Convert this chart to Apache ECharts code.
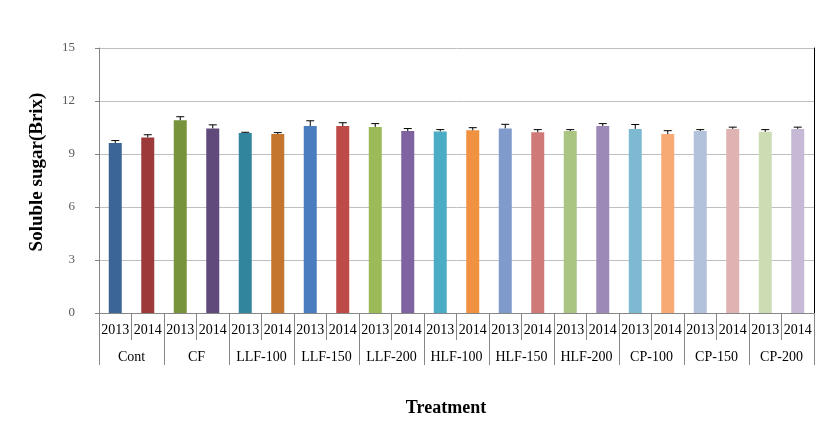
<!DOCTYPE html>
<html>
<head>
<meta charset="utf-8">
<script src="https://cdn.jsdelivr.net/npm/echarts@6/dist/echarts.min.js"></script>
<style>html,body{margin:0;padding:0;background:#fff}#c{width:830px;height:438px}</style>
</head>
<body>
<div id="c"></div>
<script>
var treatments = ['Cont','CF','LLF-100','LLF-150','LLF-200','HLF-100','HLF-150','HLF-200','CP-100','CP-150','CP-200'];
var years = ['2013','2014'];
var values = [9.62, 9.94, 10.91, 10.45, 10.19, 10.13, 10.58, 10.58, 10.53, 10.30, 10.28, 10.34, 10.45, 10.23, 10.30, 10.58, 10.42, 10.13, 10.30, 10.42, 10.26, 10.42];
var errors = [0.14, 0.15, 0.20, 0.20, 0.04, 0.08, 0.30, 0.19, 0.19, 0.14, 0.10, 0.15, 0.23, 0.15, 0.08, 0.14, 0.25, 0.19, 0.08, 0.10, 0.12, 0.10];
var yTicks = {min: 0, max: 15, step: 3};

var colors = ['#3B6594','#9C3A3A','#77933C','#604A7B','#31859C','#C4762E','#4A7DC0','#BE4B48','#9BBB59','#7F62A0','#4BACC6','#F0923F','#7F9ACB','#CF7A78','#AAC582','#9C89B8','#7DBAD1','#F7AA74','#B3C2DB','#E0B3B3','#CDDDB3','#C5B9D6'];

var cats = [];
treatments.forEach(function(t){ years.forEach(function(y){ cats.push(y); }); });
var barData = values.map(function(v,i){ return {value: v, itemStyle: {color: colors[i]}}; });
var errData = values.map(function(v,i){ return [i, v, v + errors[i]]; });

var font = '"Liberation Serif","Times New Roman",serif';
var chart = echarts.init(document.getElementById('c'));
chart.setOption({
  animation: false,
  grid: {left: 99, right: 16, top: 48, bottom: 125, containLabel: false},
  xAxis: [{
    type: 'category', data: cats, position: 'bottom',
    axisLine: {show: true, lineStyle: {color: '#868686'}},
    axisTick: {show: true, interval: 0, length: 27, lineStyle: {color: '#868686'}},
    axisLabel: {interval: 0, margin: 10, fontFamily: font, fontSize: 14, color: '#000'},
    splitLine: {show: false}
  }, {
    type: 'category', data: treatments, position: 'bottom', offset: 0,
    axisLine: {show: false},
    axisTick: {show: true, interval: 0, length: 52, lineStyle: {color: '#868686'}},
    axisLabel: {interval: 0, margin: 37, fontFamily: font, fontSize: 14, color: '#000'},
    splitLine: {show: false}
  }],
  yAxis: [{
    type: 'value', min: yTicks.min, max: yTicks.max, interval: yTicks.step,
    axisLine: {show: true, lineStyle: {color: '#868686'}},
    axisTick: {show: true, length: 4, lineStyle: {color: '#868686'}},
    axisLabel: {margin: 24, fontFamily: font, fontSize: 13, color: '#595959'},
    splitLine: {show: true, lineStyle: {color: '#BFBFBF'}}
  }, {
    type: 'value', min: yTicks.min, max: yTicks.max, interval: yTicks.step, position: 'right',
    axisLine: {show: true, lineStyle: {color: '#000'}},
    axisTick: {show: false}, axisLabel: {show: false}, splitLine: {show: false}
  }],
  graphic: [{
    type: 'text', left: 'center', top: 0,
    style: {text: ''}
  }, {
    type: 'text', x: 446, y: 408,
    style: {text: 'Treatment', font: 'bold 18px ' + font, fill: '#000', align: 'center', verticalAlign: 'middle'}
  }, {
    type: 'text', x: 37, y: 172, rotation: Math.PI / 2,
    style: {text: 'Soluble sugar(Brix)', font: 'bold 19px ' + font, fill: '#000', align: 'center', verticalAlign: 'middle'}
  }],
  series: [{
    type: 'bar', xAxisIndex: 0, yAxisIndex: 0, data: barData, barWidth: 13
  }, {
    type: 'custom', xAxisIndex: 0, yAxisIndex: 0, data: errData, z: 5,
    renderItem: function(params, api){
      var x = api.value(0);
      var lo = api.coord([x, api.value(1)]);
      var hi = api.coord([x, api.value(2)]);
      var hw = 4;
      return {type: 'group', children: [
        {type: 'line', shape: {x1: lo[0], y1: lo[1], x2: hi[0], y2: hi[1]}, style: {stroke: '#000', lineWidth: 1}},
        {type: 'line', shape: {x1: hi[0]-hw, y1: hi[1], x2: hi[0]+hw, y2: hi[1]}, style: {stroke: '#000', lineWidth: 1}}
      ]};
    }
  }]
});
</script>
</body>
</html>
